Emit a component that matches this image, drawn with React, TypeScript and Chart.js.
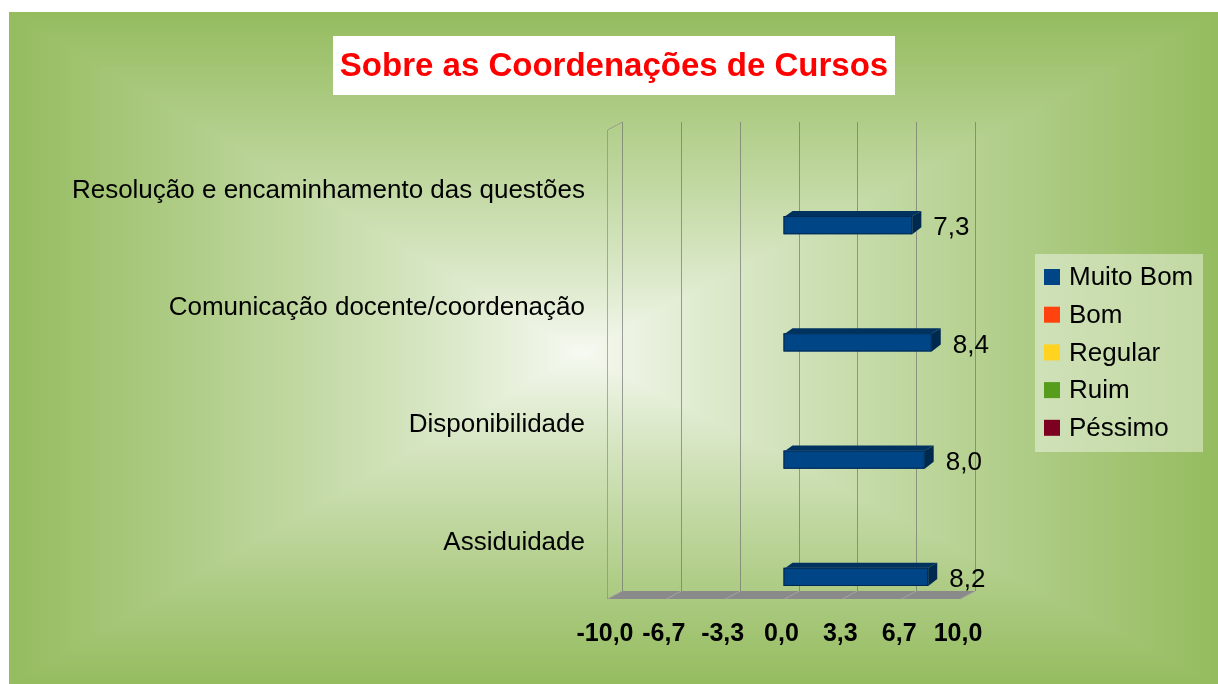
import React, { useEffect, useRef } from "react";
import { Chart, registerables } from "chart.js";

Chart.register(...registerables);

const chartTitle = "Sobre as Coordenações de Cursos";
const categories = [
  "Resolução e encaminhamento das questões",
  "Comunicação docente/coordenação",
  "Disponibilidade",
  "Assiduidade",
];
const seriesNames = ["Muito Bom", "Bom", "Regular", "Ruim", "Péssimo"];
const seriesColors = ["#004586", "#ff420e", "#ffd320", "#579d1c", "#7e0021"];
const muitoBom = [7.3, 8.4, 8.0, 8.2];
const bom = [0, 0, 0, 0];
const regular = [0, 0, 0, 0];
const ruim = [0, 0, 0, 0];
const pessimo = [0, 0, 0, 0];
const seriesValues = [muitoBom, bom, regular, ruim, pessimo];
const xTickValues = [-10, -20 / 3, -10 / 3, 0, 10 / 3, 20 / 3, 10];
const xTickLabels = ["-10,0", "-6,7", "-3,3", "0,0", "3,3", "6,7", "10,0"];

const W = 1209;
const H = 672;
const FONT = '"Liberation Sans", Arial, sans-serif';
const WALL_DX = 15;
const WALL_DY = -8;
const BAR_DX = 9;
const BAR_DY = -5;

function makeBackground(): HTMLCanvasElement {
  const c = document.createElement("canvas");
  c.width = W;
  c.height = H;
  const ctx = c.getContext("2d")!;
  const img = ctx.createImageData(W, H);
  const cx = 571, cy = 340;
  const edge = [149, 188, 95];
  const center = [247, 250, 243];
  for (let y = 0; y < H; y++) {
    const ty = y < cy ? (cy - y) / cy : (y - cy) / (H - cy);
    for (let x = 0; x < W; x++) {
      const tx = x < cx ? (cx - x) / cx : (x - cx) / (W - cx);
      let t = Math.max(tx, ty);
      t = Math.min(1, t);
      const k = Math.pow(t, 0.85);
      const i = (y * W + x) * 4;
      img.data[i] = center[0] + (edge[0] - center[0]) * k;
      img.data[i + 1] = center[1] + (edge[1] - center[1]) * k;
      img.data[i + 2] = center[2] + (edge[2] - center[2]) * k;
      img.data[i + 3] = 255;
    }
  }
  ctx.putImageData(img, 0, 0);
  return c;
}

const fmt = (v: number) => v.toFixed(1).replace(".", ",");

export default function App() {
  const ref = useRef<HTMLCanvasElement>(null);

  useEffect(() => {
    const canvas = ref.current!;
    const bg = makeBackground();

    const backgroundPlugin = {
      id: "bg3d",
      beforeDraw(chart: any) {
        const ctx = chart.ctx;
        ctx.save();
        ctx.drawImage(bg, 0, 0);
        // title box
        ctx.fillStyle = "#ffffff";
        ctx.fillRect(324, 24, 562, 59);
        ctx.fillStyle = "#ff0000";
        ctx.font = `bold 33px ${FONT}`;
        ctx.textAlign = "center";
        ctx.textBaseline = "middle";
        ctx.fillText(chartTitle, 605, 55);
        ctx.restore();
      },
      beforeDatasetsDraw(chart: any) {
        const ctx = chart.ctx;
        const xs = chart.scales.x;
        const a = chart.chartArea;
        ctx.save();
        // floor
        ctx.fillStyle = "#8a8a8a";
        ctx.beginPath();
        ctx.moveTo(a.left, a.bottom);
        ctx.lineTo(a.right, a.bottom);
        ctx.lineTo(a.right + WALL_DX, a.bottom + WALL_DY);
        ctx.lineTo(a.left + WALL_DX, a.bottom + WALL_DY);
        ctx.closePath();
        ctx.fill();
        ctx.strokeStyle = "#a4a4a4";
        ctx.lineWidth = 1;
        for (const v of xTickValues) {
          const px = Math.round(xs.getPixelForValue(v)) + 0.5;
          ctx.beginPath();
          ctx.moveTo(px, a.bottom);
          ctx.lineTo(px + WALL_DX, a.bottom + WALL_DY);
          ctx.stroke();
        }
        // back wall grid
        ctx.strokeStyle = "rgba(110,110,110,0.65)";
        for (const v of xTickValues) {
          const px = Math.round(xs.getPixelForValue(v) + WALL_DX) + 0.5;
          ctx.beginPath();
          ctx.moveTo(px, a.top + WALL_DY);
          ctx.lineTo(px, a.bottom + WALL_DY);
          ctx.stroke();
        }
        // left wall outline
        ctx.strokeStyle = "rgba(140,140,140,0.7)";
        ctx.beginPath();
        ctx.moveTo(a.left + 0.5, a.bottom);
        ctx.lineTo(a.left + 0.5, a.top);
        ctx.lineTo(a.left + WALL_DX + 0.5, a.top + WALL_DY);
        ctx.stroke();
        ctx.restore();
      },
      afterDatasetsDraw(chart: any) {
        const ctx = chart.ctx;
        ctx.save();
        chart.data.datasets.forEach((ds: any, di: number) => {
          const meta = chart.getDatasetMeta(di);
          meta.data.forEach((el: any, i: number) => {
            const v = ds.data[i];
            if (!v) return;
            const x0 = Math.min(el.base, el.x);
            const x1 = Math.max(el.base, el.x);
            const top = el.y - el.height / 2;
            const bot = el.y + el.height / 2;
            // top face
            ctx.fillStyle = ds.topColor;
            ctx.beginPath();
            ctx.moveTo(x0 + 2, top);
            ctx.lineTo(x1, top);
            ctx.lineTo(x1 + BAR_DX, top + BAR_DY);
            ctx.lineTo(x0 + BAR_DX, top + BAR_DY);
            ctx.closePath();
            ctx.fill();
            // side face
            ctx.fillStyle = ds.sideColor;
            ctx.beginPath();
            ctx.moveTo(x1, top);
            ctx.lineTo(x1 + BAR_DX, top + BAR_DY);
            ctx.lineTo(x1 + BAR_DX, bot + BAR_DY - 2);
            ctx.lineTo(x1, bot);
            ctx.closePath();
            ctx.fill();
            // front outline
            ctx.strokeStyle = ds.sideColor;
            ctx.lineWidth = 1;
            ctx.strokeRect(x0 + 0.5, top + 0.5, x1 - x0 - 1, bot - top - 1);
            // value label
            ctx.fillStyle = "#000000";
            ctx.font = `26px ${FONT}`;
            ctx.textAlign = "left";
            ctx.textBaseline = "middle";
            ctx.fillText(fmt(v), x1 + 21, el.y + 3);
          });
        });
        ctx.restore();
      },
      afterDraw(chart: any) {
        const ctx = chart.ctx;
        ctx.save();
        // legend
        const lx = 1026, ly = 242, lw = 168, lh = 198;
        ctx.fillStyle = "rgba(255,255,255,0.42)";
        ctx.fillRect(lx, ly, lw, lh);
        ctx.font = `26px ${FONT}`;
        ctx.textAlign = "left";
        ctx.textBaseline = "middle";
        seriesNames.forEach((name, i) => {
          const cy = 265 + i * 37.7;
          ctx.fillStyle = seriesColors[i];
          ctx.fillRect(1035, cy - 8, 16, 16);
          ctx.fillStyle = "#000000";
          ctx.fillText(name, 1060, cy + 1);
        });
        ctx.restore();
      },
    };

    const darker = (hex: string, f: number) => {
      const n = parseInt(hex.slice(1), 16);
      const r = Math.round(((n >> 16) & 255) * f);
      const g = Math.round(((n >> 8) & 255) * f);
      const b = Math.round((n & 255) * f);
      return `rgb(${r},${g},${b})`;
    };

    const datasets = seriesNames
      .map((name, i) => ({
        label: name,
        data: seriesValues[i],
        backgroundColor: seriesColors[i],
        borderWidth: 0,
        topColor: darker(seriesColors[i], 0.72),
        sideColor: darker(seriesColors[i], 0.6),
        categoryPercentage: 0.778,
        barPercentage: 1,
      }))
      .reverse();

    const chart = new Chart(canvas, {
      type: "bar",
      data: { labels: categories, datasets: datasets as any },
      options: {
        indexAxis: "y",
        responsive: false,
        animation: false,
        devicePixelRatio: 1,
        layout: { padding: { top: 118, right: W - 951, left: 0, bottom: 0 } },
        plugins: {
          legend: { display: false },
          title: { display: false },
          tooltip: { enabled: false },
        },
        scales: {
          x: {
            type: "linear",
            min: -10,
            max: 10,
            grid: { display: false, drawTicks: false },
            border: { display: false },
            afterBuildTicks(scale: any) {
              scale.ticks = xTickValues.map((v) => ({ value: v }));
            },
            afterFit(scale: any) {
              scale.height = H - 587;
            },
            ticks: {
              autoSkip: false,
              maxRotation: 0,
              padding: 20,
              labelOffset: -2,
              color: "#000000",
              font: { family: FONT, size: 25, weight: "bold" },
              callback: (_v: any, i: number) => xTickLabels[i],
            },
          },
          y: {
            type: "category",
            grid: { display: false, drawTicks: false },
            border: { display: false },
            afterFit(scale: any) {
              scale.width = 598;
            },
            ticks: {
              padding: 22,
              labelOffset: 2,
              color: "#000000",
              font: { family: FONT, size: 26 },
            },
          },
        },
      },
      plugins: [backgroundPlugin],
    });
    return () => chart.destroy();
  }, []);

  return (
    <div style={{ position: "absolute", left: 9, top: 12, width: W, height: H }}>
      <canvas ref={ref} width={W} height={H} style={{ display: "block", width: W, height: H }} />
    </div>
  );
}
